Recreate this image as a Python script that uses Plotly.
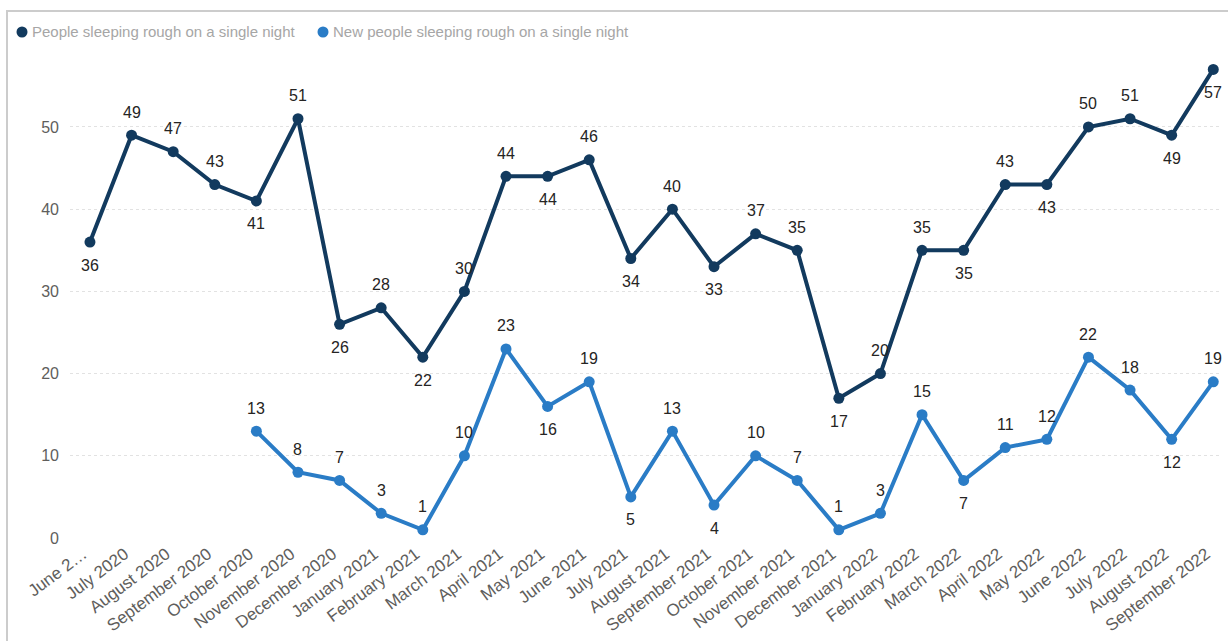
import plotly.graph_objects as go

# Monthly counts, June 2020 - September 2022
months = [
    "June 2020", "July 2020", "August 2020", "September 2020", "October 2020",
    "November 2020", "December 2020", "January 2021", "February 2021", "March 2021",
    "April 2021", "May 2021", "June 2021", "July 2021", "August 2021",
    "September 2021", "October 2021", "November 2021", "December 2021", "January 2022",
    "February 2022", "March 2022", "April 2022", "May 2022", "June 2022",
    "July 2022", "August 2022", "September 2022",
]
tick_labels = ["June 2…"] + months[1:]

rough_sleepers = [36, 49, 47, 43, 41, 51, 26, 28, 22, 30, 44, 44, 46, 34, 40,
                  33, 37, 35, 17, 20, 35, 35, 43, 43, 50, 51, 49, 57]
rough_pos = ["b", "t", "t", "t", "b", "t", "b", "t", "b", "t", "t", "b", "t", "b", "t",
             "b", "t", "t", "b", "t", "t", "b", "t", "b", "t", "t", "b", "b"]

new_months = months[4:]
new_rough_sleepers = [13, 8, 7, 3, 1, 10, 23, 16, 19, 5, 13, 4, 10, 7, 1, 3,
                      15, 7, 11, 12, 22, 18, 12, 19]
new_pos = ["t", "t", "t", "t", "t", "t", "t", "b", "t", "b", "t", "b", "t", "t", "t", "t",
           "t", "b", "t", "t", "t", "t", "b", "t"]

DARK = "#123A5E"
LIGHT = "#2A7CC6"
FONT = "Liberation Sans, Arial, sans-serif"

W, H = 1228, 641
ML, MR, MT, MB = 70, 6, 53, 103
PW, PH = W - ML - MR, H - MT - MB


def px_x(px):
    return (px - ML) / PW


def px_y(py):
    return (H - MB - py) / PH


fig = go.Figure()
fig.add_trace(go.Scatter(
    x=months, y=rough_sleepers, mode="lines+markers",
    name="People sleeping rough on a single night",
    line=dict(color=DARK, width=4), marker=dict(color=DARK, size=11),
    cliponaxis=False, showlegend=False,
))
fig.add_trace(go.Scatter(
    x=new_months, y=new_rough_sleepers, mode="lines+markers",
    name="New people sleeping rough on a single night",
    line=dict(color=LIGHT, width=4), marker=dict(color=LIGHT, size=11),
    cliponaxis=False, showlegend=False,
))

# Data labels above or below each point
annotations = []
for xs, ys, codes in ((months, rough_sleepers, rough_pos),
                      (new_months, new_rough_sleepers, new_pos)):
    for x, y, c in zip(xs, ys, codes):
        annotations.append(dict(
            x=x, y=y, xref="x", yref="y", text=str(y), showarrow=False,
            xanchor="center", yanchor="middle", yshift=23 if c == "t" else -23,
            font=dict(family=FONT, size=16, color="#252423"),
        ))

# Legend row: coloured dot followed by the series name
legend_items = [
    (22, DARK, "People sleeping rough on a single night"),
    (323, LIGHT, "New people sleeping rough on a single night"),
]
shapes = [dict(
    type="rect", xref="paper", yref="paper",
    x0=px_x(7), x1=px_x(1240), y0=px_y(660), y1=px_y(11),
    line=dict(color="#CCCCCC", width=2), layer="below",
)]
for cx, color, label in legend_items:
    shapes.append(dict(
        type="circle", xref="paper", yref="paper",
        x0=px_x(cx - 5.5), x1=px_x(cx + 5.5), y0=px_y(32 + 5.5), y1=px_y(32 - 5.5),
        fillcolor=color, line=dict(width=0),
    ))
    annotations.append(dict(
        xref="paper", yref="paper", x=px_x(cx + 8), y=px_y(32),
        xanchor="left", yanchor="middle", showarrow=False, text=label,
        font=dict(family=FONT, size=15, color="#A6A6A6"),
    ))

fig.update_layout(
    width=W, height=H,
    margin=dict(l=ML, r=MR, t=MT, b=MB, autoexpand=False),
    paper_bgcolor="white", plot_bgcolor="white",
    annotations=annotations,
    shapes=shapes,
    xaxis=dict(
        type="category", categoryorder="array", categoryarray=months,
        tickmode="array", tickvals=months, ticktext=tick_labels,
        tickangle=-37, range=[-0.48, 27.21],
        tickfont=dict(family=FONT, size=17, color="#605E5C"),
        ticklabelshift=-7, ticklabelstandoff=2,
        showgrid=False, zeroline=False, showline=False, ticks="",
        automargin=False,
    ),
    yaxis=dict(
        range=[0, 59], tickvals=[0, 10, 20, 30, 40, 50],
        tickfont=dict(family=FONT, size=16, color="#605E5C"),
        showgrid=True, gridcolor="#E2E2E2", griddash="dot", gridwidth=1,
        zeroline=False, showline=False, ticks="", ticklabelstandoff=10,
        automargin=False,
    ),
)

fig.write_html("out.html")
